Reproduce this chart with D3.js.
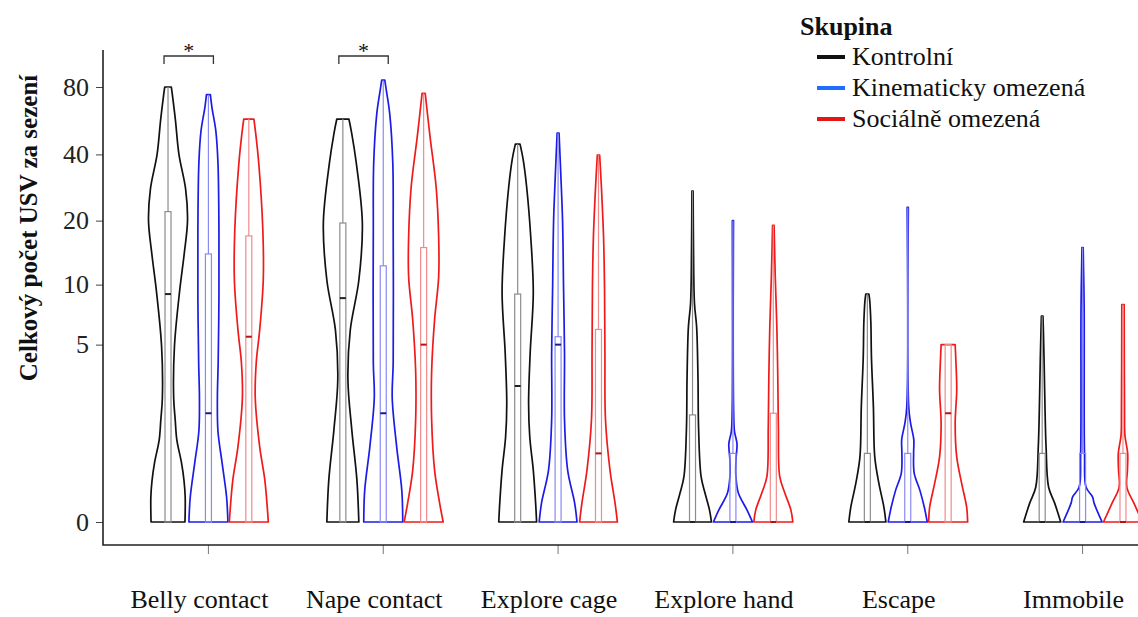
<!DOCTYPE html>
<html>
<head>
<meta charset="utf-8">
<script src="https://cdn.jsdelivr.net/npm/d3@7"></script>
<style>
  body { margin: 0; background: #fff; }
  svg text { font-family: "Liberation Serif", serif !important; }
</style>
</head>
<body>
<script>
// violin + box plot, USV counts per session, log(1+y) axis

var categories = ["Belly contact", "Nape contact", "Explore cage", "Explore hand", "Escape", "Immobile"];
var groups = ["Kontrolní", "Kinematicky omezená", "Sociálně omezená"];
var yTicks = [0, 5, 10, 20, 40, 80];

// density outline: [USV count, relative width]
var densKontrolni = [
  [[0,0.87],[0.29,0.88],[0.52,0.82],[0.82,0.69],[1.3,0.45],[1.8,0.37],[2.5,0.29],[4.9,0.33],[9.4,0.6],[14,0.83],[20,1],[28,0.9],[40,0.56],[57,0.38],[72,0.24],[80,0.17]],
  [[0,0.82],[0.53,0.72],[1.53,0.46],[3.2,0.26],[5.95,0.38],[10.5,0.82],[19.5,1],[36.5,0.69],[50,0.45],[57.6,0.31]],
  [[0,0.97],[0.21,0.92],[0.69,0.8],[1.36,0.62],[2.3,0.56],[4.5,0.64],[9.1,0.8],[16.8,0.67],[28.5,0.46],[38,0.28],[44.5,0.12]],
  [[0,0.97],[0.13,0.87],[0.34,0.64],[0.58,0.44],[1.6,0.31],[3.3,0.28],[6.2,0.21],[8.1,0.1],[15,0.05],[27.3,0.03]],
  [[0,0.95],[0.16,0.85],[0.48,0.59],[0.93,0.38],[2.2,0.31],[4.3,0.21],[6.5,0.18],[8.4,0.12],[9,0.08]],
  [[0,0.95],[0.21,0.64],[0.42,0.33],[1.13,0.2],[2,0.15],[4,0.1],[6,0.06],[7,0.04]]
];
var densKinematicky = [
  [[0,1],[0.29,0.93],[0.82,0.7],[1.5,0.49],[2.5,0.46],[4,0.5],[8.7,0.54],[18,0.54],[36.5,0.49],[51,0.38],[65,0.18],[74,0.1]],
  [[0,1],[0.38,0.95],[1.13,0.69],[2.5,0.46],[4,0.51],[18,0.51],[36.5,0.49],[61,0.33],[78,0.15],[85.8,0.08]],
  [[0,0.97],[0.21,0.85],[0.69,0.49],[1.8,0.33],[4.5,0.33],[9.7,0.28],[20,0.23],[34,0.13],[49.8,0.05]],
  [[0,1],[0.13,0.72],[0.34,0.28],[0.6,0.15],[0.9,0.16],[1.2,0.21],[1.5,0.08],[2,0.04],[20,0.03]],
  [[0,1],[0.16,0.85],[0.38,0.62],[0.64,0.33],[1,0.3],[1.3,0.31],[1.7,0.15],[2.2,0.05],[23,0.03]],
  [[0,1],[0.21,0.59],[0.29,0.51],[0.42,0.18],[0.97,0.1],[7.8,0.08],[15,0.03]]
];
var densSocialne = [
  [[0,1],[0.53,0.82],[1.13,0.56],[2.5,0.33],[4,0.38],[6,0.56],[10.5,0.74],[18,0.72],[36.5,0.51],[50,0.35],[57.6,0.26]],
  [[0,1],[0.21,0.82],[0.69,0.56],[1.8,0.41],[3.6,0.41],[6.7,0.56],[10.9,0.77],[16.8,0.77],[28.5,0.64],[47.8,0.33],[75,0.08]],
  [[0,0.97],[0.21,0.85],[0.69,0.59],[1.8,0.36],[4.5,0.33],[9.7,0.31],[16.8,0.26],[28.5,0.15],[39.7,0.06]],
  [[0,1],[0.13,0.9],[0.34,0.59],[0.58,0.33],[1.6,0.26],[3.3,0.23],[6.2,0.18],[10.9,0.1],[19,0.04]],
  [[0,1],[0.16,0.95],[0.48,0.69],[0.93,0.44],[1.7,0.36],[2.8,0.44],[4,0.4],[5,0.36]],
  [[0,1],[0.21,0.56],[0.42,0.2],[0.7,0.23],[1,0.24],[1.4,0.1],[2,0.08],[8,0.06]]
];

// box stats: [q1, median, q3, max]
var boxKontrolni   = [[0,9,22,80],[0,8.6,19.5,57.6],[0,2.95,9,44.5],[0,0,1.95,27.3],[0,0,1,9],[0,0,1,7]];
var boxKinematicky = [[0,2,14,74],[0,2,12.3,85.8],[0,5,5.5,49.8],[0,0,1,20],[0,0,1,23],[0,0,1,15]];
var boxSocialne    = [[0,5.5,17,57.6],[0,5,15,75],[0,1,6,39.7],[0,0,2,19],[0,2,5,5],[0,0,1,8]];

// significance brackets
var sigPairs = [
  {cat: "Belly contact", from: "Kontrolní", to: "Kinematicky omezená", label: "*"},
  {cat: "Nape contact",  from: "Kontrolní", to: "Kinematicky omezená", label: "*"}
];

var dens = [densKontrolni, densKinematicky, densSocialne];
var boxes = [boxKontrolni, boxKinematicky, boxSocialne];
var lineColor   = ["#111111", "#1c1ce6", "#f01a1a"];
var boxColor    = ["#8c8c8c", "#8a8af5", "#f08a8a"];
var medColor    = ["#222222", "#1a1a90", "#b01515"];
var legendColor = ["#111111", "#1e6eff", "#e21818"];

var outWidth = 1138, outHeight = 617;
var axisY = 545, axisX = 103;

var svg = d3.select("body").append("svg")
  .attr("width", outWidth)
  .attr("height", outHeight);

// scales
var x = d3.scaleBand().domain(categories).range([121, 1170]);
var xg = d3.scaleBand().domain(groups).range([-60.6, 60.6]);
var y = d3.scaleSymlog().constant(1).domain([0, 80]).range([522, 87]);
var halfW = 19.5, boxW = 6;

function cx(cat, g) {
  return x(cat) + x.bandwidth() / 2 + xg(g) + xg.bandwidth() / 2;
}

// violins
groups.forEach(function(g, gi) {
  categories.forEach(function(cat, ci) {
    var c = cx(cat, g);
    var area = d3.area()
      .y(function(d) { return y(d[0]); })
      .x0(function(d) { return c - d[1] * halfW; })
      .x1(function(d) { return c + d[1] * halfW; })
      .curve(d3.curveCatmullRom.alpha(0.5));
    svg.append("path")
      .datum(dens[gi][ci])
      .attr("d", area)
      .attr("fill", "none")
      .attr("stroke", lineColor[gi])
      .attr("stroke-width", 1.7)
      .attr("stroke-linejoin", "round");

    var b = boxes[gi][ci];
    // whisker
    svg.append("line")
      .attr("x1", c).attr("x2", c)
      .attr("y1", y(b[2])).attr("y2", y(b[3]))
      .attr("stroke", boxColor[gi]).attr("stroke-width", 1.2);
    svg.append("rect")
      .attr("x", c - boxW / 2).attr("width", boxW)
      .attr("y", y(b[2])).attr("height", y(b[0]) - y(b[2]))
      .attr("fill", "none")
      .attr("stroke", boxColor[gi]).attr("stroke-width", 1.2);
    svg.append("line")
      .attr("x1", c - boxW / 2).attr("x2", c + boxW / 2)
      .attr("y1", y(b[1])).attr("y2", y(b[1]))
      .attr("stroke", medColor[gi]).attr("stroke-width", 2);
  });
});

// axes
var yAxis = d3.axisLeft(y).tickValues(yTicks).tickSize(7).tickPadding(7).tickFormat(d3.format("d"));
svg.append("g")
  .attr("transform", "translate(" + axisX + ",0)")
  .call(yAxis)
  .call(function(g) {
    g.attr("font-family", null).attr("font-size", null);
    g.select(".domain").remove();
    g.selectAll("text").attr("font-size", 26).attr("fill", "#222");
    g.selectAll("line").attr("stroke", "#444");
  });

var xAxis = d3.axisBottom(x).tickSize(9).tickPadding(36);
svg.append("g")
  .attr("transform", "translate(0," + axisY + ")")
  .call(xAxis)
  .call(function(g) {
    g.attr("font-family", null).attr("font-size", null);
    g.select(".domain").remove();
    g.selectAll("text").attr("font-size", 26).attr("fill", "#111").attr("dx", -9);
    g.selectAll("line").attr("stroke", "#777");
  });

svg.append("path")
  .attr("d", "M" + axisX + ",50V" + axisY + "H" + outWidth)
  .attr("fill", "none")
  .attr("stroke", "#222")
  .attr("stroke-width", 1.6);

// y title
svg.append("text")
  .attr("transform", "rotate(-90)")
  .attr("x", -228)
  .attr("y", 37)
  .style("text-anchor", "middle")
  .attr("font-size", 25)
  .attr("font-weight", "bold")
  .attr("fill", "#111")
  .text("Celkový počet USV za sezení");

// significance brackets
sigPairs.forEach(function(s) {
  var x1 = cx(s.cat, s.from) - 4, x2 = cx(s.cat, s.to) + 5;
  svg.append("path")
    .attr("d", "M" + x1 + ",64V56H" + x2 + "V64")
    .attr("fill", "none")
    .attr("stroke", "#333")
    .attr("stroke-width", 1.3);
  svg.append("text")
    .attr("x", (x1 + x2) / 2)
    .attr("y", 58)
    .style("text-anchor", "middle")
    .attr("font-size", 22)
    .attr("fill", "#111")
    .text(s.label);
});

// legend
var legend = svg.append("g").attr("transform", "translate(800,0)");
legend.append("text")
  .attr("x", 0).attr("y", 35)
  .attr("font-size", 26)
  .attr("font-weight", "bold")
  .attr("fill", "#111")
  .text("Skupina");
var items = legend.selectAll(".legend")
  .data(groups)
  .enter().append("g")
  .attr("class", "legend")
  .attr("transform", function(d, i) { return "translate(0," + (65 + i * 31) + ")"; });
items.append("line")
  .attr("x1", 17).attr("x2", 45)
  .attr("y1", -8).attr("y2", -8)
  .attr("stroke", function(d, i) { return legendColor[i]; })
  .attr("stroke-width", 4);
items.append("text")
  .attr("x", 52).attr("y", 0)
  .attr("font-size", 26)
  .attr("fill", "#111")
  .text(function(d) { return d; });
</script>
</body>
</html>
